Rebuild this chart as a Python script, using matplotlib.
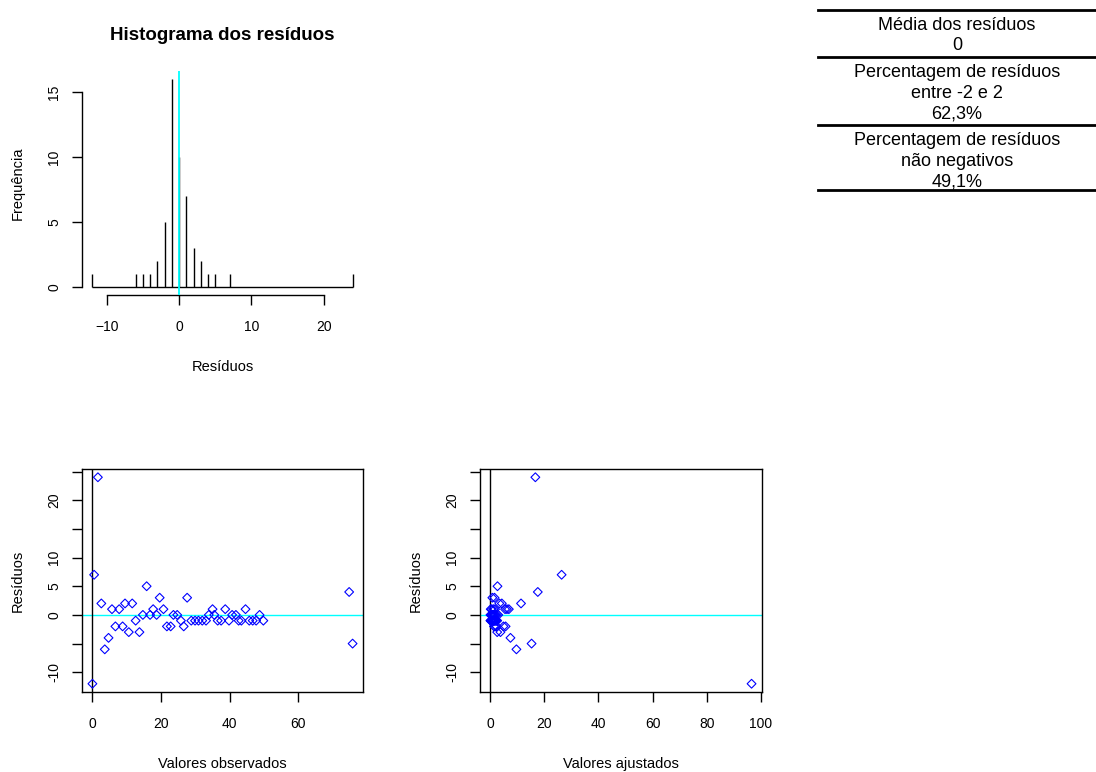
import numpy as np
import matplotlib
matplotlib.use("Agg")
import matplotlib.pyplot as plt

plt.rcParams['font.family'] = ['Liberation Sans', 'DejaVu Sans']

# valores do histograma (residuo, frequencia)
hist_res = [-12, -6, -5, -4, -3, -2, -1, 0, 1, 2, 3, 4, 5, 7, 24]
hist_freq = [1, 1, 1, 1, 2, 5, 16, 10, 7, 3, 2, 1, 1, 1, 1]

# valores observados, ajustados e residuos
observados = [0, 0.5, 1.6, 2.6, 3.6, 4.7, 5.7, 6.7, 7.8, 8.8, 9.5, 10.6, 11.6, 12.6,
              13.7, 14.7, 15.8, 16.8, 17.7, 18.7, 19.6, 20.7, 21.7, 22.8, 23.6, 24.7,
              25.8, 26.6, 27.6, 28.8, 29.9, 30.9, 32.0, 33.1, 33.9, 35.0, 35.5, 36.5,
              37.5, 38.7, 39.8, 40.7, 41.8, 42.6, 43.4, 44.6, 45.7, 46.7, 47.7, 48.7,
              49.8, 74.8, 75.8]
residuos = [-12, 7, 24, 2, -6, -4, 1, -2, 1, -2, 2, -3, 2, -1,
            -3, 0, 5, 0, 1, 0, 3, 1, -2, -2, 0, 0,
            -1, -2, 3, -1, -1, -1, -1, -1, 0, 1, 0, -1,
            -1, 1, -1, 0, 0, -1, -1, 1, -1, -1, -1, 0,
            -1, 4, -5]
ajustados = [96.6, 26.4, 16.7, 3.4, 9.7, 7.5, 0.2, 1.4, 0.6, 1.9, 4.3, 2.6, 11.4, 0.1,
             3.8, 0.1, 2.7, 0.4, 1.2, 0.8, 0.8, 1.8, 4.9, 5.7, 1.2, 1.6,
             0.3, 2.4, 1.6, 0.5, 0.7, 1.0, 1.2, 1.4, 2.0, 5.5, 2.5, 1.6,
             1.8, 6.2, 2.0, 3.0, 0.3, 2.2, 2.4, 6.9, 2.6, 0.2, 0.9, 1.0,
             1.5, 17.6, 15.3]

res_ticks = [-10, -5, 0, 5, 10, 15, 20, 25]
res_labels = ['-10', '', '0', '5', '10', '', '20', '']

tabela = [("Média dos resíduos", "0"),
          ("Percentagem de resíduos", "entre -2 e 2", "62,3%"),
          ("Percentagem de resíduos", "não negativos", "49,1%")]

W, H = 1096, 772
fig = plt.figure(figsize=(W / 100, H / 100), dpi=100)


def eixo(x0, y0, x1, y1):
    return fig.add_axes([x0 / W, 1 - y1 / H, (x1 - x0) / W, (y1 - y0) / H])


def estilo(ax):
    ax.tick_params(direction='out', length=7, width=1, labelsize=10)
    ax.tick_params(axis='x', pad=11)
    ax.tick_params(axis='y', pad=8, labelrotation=90)
    plt.setp(ax.get_yticklabels(), va='center')
    for s in ax.spines.values():
        s.set_linewidth(1)


# histograma
ax = eixo(82, 71, 363, 295)
ax.vlines(hist_res, 0, hist_freq, color='black', lw=1)
ax.hlines(0, min(hist_res), max(hist_res), color='black', lw=1)
ax.axvline(0, color='#00FFFF', lw=1.3, zorder=4)
ax.margins(0.04)
ax.set_xticks([-10, 0, 10, 20])
ax.set_yticks([0, 5, 10, 15])
ax.spines['top'].set_visible(False)
ax.spines['right'].set_visible(False)
ax.spines['left'].set_bounds(0, 15)
ax.spines['bottom'].set_bounds(-10, 20)
ax.set_title("Histograma dos resíduos", fontsize=13.5, fontweight='bold', pad=22)
ax.set_xlabel("Resíduos", fontsize=10.5, labelpad=19)
ax.set_ylabel("Frequência", fontsize=10.5, labelpad=16)
estilo(ax)

# residuos vs observados
ax = eixo(82, 469, 363, 692)
ax.scatter(observados, residuos, marker='D', s=20, facecolors='none',
           edgecolors='#0000FF', linewidths=0.8, zorder=3)
ax.margins(0.04)
ax.axhline(0, color='#00FFFF', lw=1)
ax.axvline(0, color='black', lw=1)
ax.set_xticks([0, 20, 40, 60])
ax.set_yticks(res_ticks)
ax.set_yticklabels(res_labels)
ax.set_xlabel("Valores observados", fontsize=10.5, labelpad=19)
ax.set_ylabel("Resíduos", fontsize=10.5, labelpad=16)
estilo(ax)

# residuos vs ajustados
ax = eixo(480, 469, 762, 692)
ax.scatter(ajustados, residuos, marker='D', s=20, facecolors='none',
           edgecolors='#0000FF', linewidths=0.8, zorder=3)
ax.margins(0.04)
ax.axhline(0, color='#00FFFF', lw=1)
ax.axvline(0, color='black', lw=1)
ax.set_xticks([0, 20, 40, 60, 80, 100])
ax.set_yticks(res_ticks)
ax.set_yticklabels(res_labels)
ax.set_xlabel("Valores ajustados", fontsize=10.5, labelpad=19)
ax.set_ylabel("Resíduos", fontsize=10.5, labelpad=16)
estilo(ax)

# tabela no canto superior direito
linhas_y = [10, 57, 125, 190]
for y in linhas_y:
    fig.add_artist(plt.Line2D([818 / W, 1], [1 - y / H, 1 - y / H], color='black', lw=2))
y = 25
for bloco in tabela:
    for txt in bloco:
        fig.text(957 / W, 1 - y / H, txt, ha='center', va='center', fontsize=13)
        y += 20.7
    y += 6

fig.savefig("out.png", dpi=100)
